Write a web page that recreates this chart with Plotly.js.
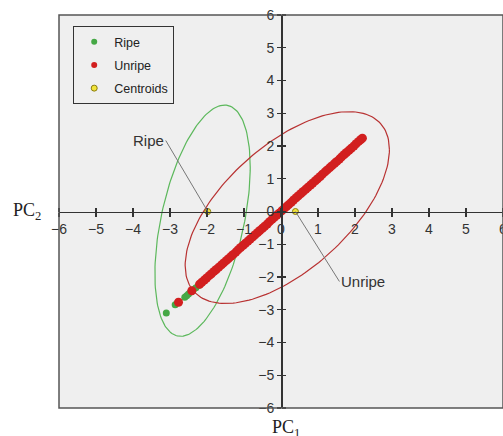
<!DOCTYPE html>
<html>
<head>
<meta charset="utf-8">
<script src="https://cdn.plot.ly/plotly-3.0.1.min.js"></script>
<style>
  html, body { margin: 0; padding: 0; background: #fff; }
  #myPlotDiv { width: 503px; height: 436px; }
</style>
</head>
<body>
<div id="myPlotDiv"></div>
<script>
// scores (PC1, PC2)
const ripePC1 = [-3.1, -2.86, -2.6, -2.55, -2.5, -2.44, -2.37, -2.3, -2.23, -2.1, -1.95, -1.8, -1.62, -1.4];
const ripePC2 = [-3.1, -2.85, -2.62, -2.57, -2.52, -2.46, -2.39, -2.33, -2.26, -2.12, -1.97, -1.82, -1.64, -1.42];

const unripePC1 = [-2.77, -2.41, -2.2, -2.14, -2.07, -2.01, -1.94, -1.88, -1.81, -1.75, -1.68, -1.61, -1.55, -1.48, -1.42, -1.35, -1.29, -1.22, -1.16, -1.09, -1.02, -0.96, -0.89, -0.83, -0.76, -0.7, -0.63, -0.57, -0.5, -0.44, -0.37, -0.31, -0.24, -0.18, -0.11, -0.05, 0.02, 0.08, 0.15, 0.21, 0.28, 0.34, 0.41, 0.47, 0.54, 0.6, 0.67, 0.73, 0.8, 0.86, 0.93, 0.99, 1.06, 1.12, 1.19, 1.25, 1.32, 1.38, 1.45, 1.51, 1.58, 1.64, 1.71, 1.77, 1.84, 1.9, 1.97, 2.03, 2.1, 2.16, 2.2];
const unripePC2 = [-2.77, -2.42, -2.22, -2.16, -2.09, -2.03, -1.96, -1.9, -1.83, -1.77, -1.7, -1.63, -1.57, -1.5, -1.44, -1.37, -1.31, -1.24, -1.17, -1.1, -1.03, -0.97, -0.9, -0.84, -0.77, -0.71, -0.64, -0.58, -0.51, -0.45, -0.38, -0.31, -0.24, -0.18, -0.11, -0.05, 0.02, 0.08, 0.15, 0.21, 0.28, 0.35, 0.42, 0.48, 0.55, 0.61, 0.68, 0.74, 0.81, 0.87, 0.94, 1.0, 1.07, 1.14, 1.21, 1.27, 1.34, 1.4, 1.47, 1.53, 1.6, 1.67, 1.74, 1.8, 1.87, 1.93, 2.0, 2.07, 2.14, 2.2, 2.24];

const centroidNames = ['Ripe', 'Unripe'];
const centroidPC1 = [-1.98, 0.39];
const centroidPC2 = [0, 0];

// confidence ellipses: centre and covariance (sxx, sxy, syy)
const ellipseNames = ['Ripe', 'Unripe'];
const ellipseCX = [-2.12, 0.17];
const ellipseCY = [-0.28, 0.12];
const ellipseSxx = [1.66, 7.62];
const ellipseSxy = [2.1, 4.88];
const ellipseSyy = [12.46, 8.58];
const ellipseColors = ['#5cb85c', '#b83232'];

const legendNames = ['Ripe', 'Unripe', 'Centroids'];
const tickVals = [-6, -5, -4, -3, -2, -1, 0, 1, 2, 3, 4, 5, 6];

const ripeColor = '#45a845';
const unripeColor = '#d21f1f';
const centroidColor = '#f2e43a';


// outline of an ellipse from its centre and covariance
function ellipseTrace(i) {
    const l11 = Math.sqrt(ellipseSxx[i]);
    const l21 = ellipseSxy[i] / l11;
    const l22 = Math.sqrt(ellipseSyy[i] - l21 * l21);
    const xs = [], ys = [];
    for (let k = 0; k <= 180; k++) {
        const t = 2 * Math.PI * k / 180;
        xs.push(ellipseCX[i] + l11 * Math.cos(t));
        ys.push(ellipseCY[i] + l21 * Math.cos(t) + l22 * Math.sin(t));
    }
    return {
        x: xs, y: ys, type: 'scatter', mode: 'lines',
        line: { color: ellipseColors[i], width: 1.2 },
        showlegend: false, hoverinfo: 'skip'
    };
}

// legend-only entry so the legend dots stay small
function legendEntry(name, group, marker) {
    return { x: [null], y: [null], type: 'scatter', mode: 'markers',
             name: name, legendgroup: group, marker: marker };
}


function plotScores() {
    var ripeTrace = {
        x: ripePC1, y: ripePC2, type: 'scatter', mode: 'markers',
        showlegend: false, marker: { color: ripeColor, size: 7 }
    };
    var unripeTrace = {
        x: unripePC1, y: unripePC2, type: 'scatter', mode: 'markers',
        showlegend: false, marker: { color: unripeColor, size: 9 }
    };
    var centroidMarker = { color: centroidColor, size: 6, line: { color: '#8a7d10', width: 1 } };
    var centroidTrace = {
        x: centroidPC1, y: centroidPC2, type: 'scatter', mode: 'markers',
        showlegend: false, marker: centroidMarker
    };
    // empty trace so the tick-only axes (x2, y2) get drawn
    var dummy = { x: [], y: [], xaxis: 'x2', yaxis: 'y2', showlegend: false, type: 'scatter' };

    var data = [
        ellipseTrace(0), ellipseTrace(1), ripeTrace, unripeTrace, centroidTrace, dummy,
        legendEntry(legendNames[0], 'a', { color: ripeColor, size: 6 }),
        legendEntry(legendNames[1], 'b', { color: unripeColor, size: 6 }),
        legendEntry(legendNames[2], 'c', centroidMarker)
    ];

    var tickFont = { family: 'Liberation Sans, Arial, sans-serif', size: 14, color: '#333' };
    var layout = {
        width: 503, height: 436,
        margin: { l: 59, r: 0, t: 15, b: 28 },
        paper_bgcolor: '#ffffff',
        plot_bgcolor: '#efefef',
        font: { family: 'Liberation Sans, Arial, sans-serif', color: '#333' },
        showlegend: true,
        hovermode: false,
        xaxis: {
            range: [-6, 6], tickvals: tickVals, anchor: 'free', position: 0.5,
            showgrid: false, zeroline: false, showline: true, linecolor: '#333', linewidth: 1.5,
            ticks: 'outside', ticklen: 4, tickcolor: '#333', tickwidth: 1.2, tickfont: tickFont,
            ticklabeloverflow: 'allow'
        },
        yaxis: {
            range: [-6, 6], tickvals: tickVals, anchor: 'free', position: 0.5,
            showgrid: false, zeroline: false, showline: true, linecolor: '#333', linewidth: 1.5,
            ticks: 'outside', ticklen: 4, tickcolor: '#333', tickwidth: 1.2, tickfont: tickFont,
            ticklabeloverflow: 'allow'
        },
        xaxis2: {
            range: [-6, 6], tickvals: tickVals, overlaying: 'x', anchor: 'free', position: 0.5, side: 'top',
            showgrid: false, zeroline: false, showline: false, showticklabels: false,
            ticks: 'outside', ticklen: 4, tickcolor: '#333', tickwidth: 1.2
        },
        yaxis2: {
            range: [-6, 6], tickvals: tickVals, overlaying: 'y', anchor: 'free', position: 0.5, side: 'right',
            showgrid: false, zeroline: false, showline: false, showticklabels: false,
            ticks: 'outside', ticklen: 4, tickcolor: '#333', tickwidth: 1.2
        },
        legend: {
            x: 0.032, y: 0.972, xanchor: 'left', yanchor: 'top',
            bgcolor: '#efefef', bordercolor: '#333', borderwidth: 1,
            font: { size: 12.5, color: '#222' },
            tracegroupgap: 4
        },
        shapes: [
            { type: 'rect', xref: 'paper', yref: 'paper', x0: 0, x1: 1, y0: 0, y1: 1,
              line: { color: '#555', width: 1.5 }, layer: 'above' }
        ],
        annotations: [
            { x: centroidPC1[0], y: centroidPC2[0], text: centroidNames[0], showarrow: true,
              arrowhead: 0, arrowwidth: 1, arrowcolor: '#777', ax: -42, ay: -71, xanchor: 'right',
              font: { size: 15, color: '#333' } },
            { x: centroidPC1[1], y: centroidPC2[1], text: centroidNames[1], showarrow: true,
              arrowhead: 0, arrowwidth: 1, arrowcolor: '#777', ax: 44, ay: 70, xanchor: 'left',
              font: { size: 15, color: '#333' } },
            { xref: 'paper', yref: 'paper', x: -0.072, y: 0.5, xanchor: 'center', yanchor: 'middle',
              text: 'PC<sub>2</sub>', showarrow: false,
              font: { family: 'Liberation Serif, Times New Roman, serif', size: 18, color: '#222' } },
            { xref: 'paper', yref: 'paper', x: 0.512, y: -0.053, xanchor: 'center', yanchor: 'middle',
              text: 'PC<sub>1</sub>', showarrow: false,
              font: { family: 'Liberation Serif, Times New Roman, serif', size: 18, color: '#222' } }
        ]
    };

    Plotly.newPlot('myPlotDiv', data, layout, { displayModeBar: false, staticPlot: true });
}

window.onload = function() {
    plotScores();
};
</script>
</body>
</html>
